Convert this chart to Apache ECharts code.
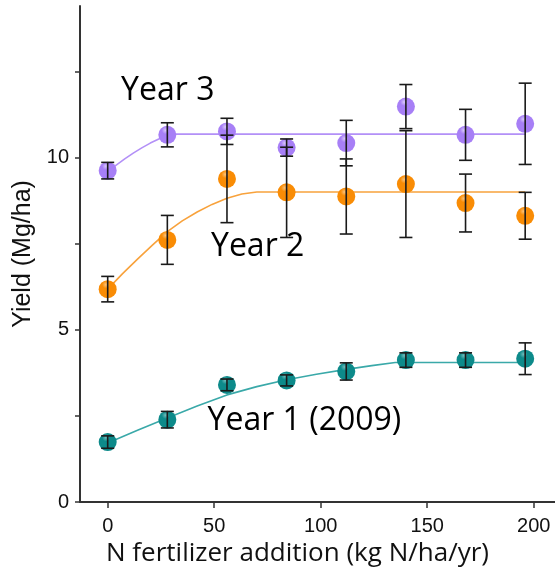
<!DOCTYPE html>
<html>
<head>
<meta charset="utf-8">
<script src="https://cdn.jsdelivr.net/npm/echarts@6/dist/echarts.min.js"></script>
<style>
  html, body { margin: 0; padding: 0; background: #fff; }
  #main { width: 555px; height: 573px; }
</style>
</head>
<body>
<div id="main"></div>
<script>
// N rate (kg N/ha/yr)
const nRate = [0, 28, 56, 84, 112, 140, 168, 196];

// yield means and error (Mg/ha)
const year1Mean = [1.74, 2.39, 3.40, 3.53, 3.79, 4.12, 4.12, 4.16];
const year1Err  = [0.18, 0.24, 0.17, 0.16, 0.25, 0.21, 0.21, 0.46];
const year2Mean = [6.18, 7.61, 9.38, 8.99, 8.87, 9.23, 8.68, 8.31];
const year2Err  = [0.37, 0.71, 1.27, 1.31, 1.09, 1.55, 0.84, 0.68];
const year3Mean = [9.62, 10.66, 10.76, 10.29, 10.42, 11.48, 10.66, 10.98];
const year3Err  = [0.24, 0.35, 0.38, 0.25, 0.66, 0.64, 0.74, 1.18];

// fitted response curves
const fit1X = [0, 14, 28, 42, 56, 70, 84, 98, 112, 124, 135, 196];
const fit1Y = [1.71, 2.08, 2.44, 2.79, 3.11, 3.35, 3.55, 3.71, 3.85, 3.96, 4.05, 4.05];
const fit2X = [0, 7, 14, 21, 28, 35, 42, 49, 56, 63, 70, 196];
const fit2Y = [6.18, 6.63, 7.05, 7.46, 7.85, 8.16, 8.42, 8.64, 8.82, 8.94, 9.0, 9.0];
const fit3X = [0, 4, 8, 12, 16, 20, 24, 28, 32, 196];
const fit3Y = [9.60, 9.78, 9.96, 10.13, 10.28, 10.42, 10.54, 10.63, 10.68, 10.68];

// axis ticks
const xTicks = [0, 50, 100, 150, 200];
const yTicks = [0, 2.5, 5, 7.5, 10, 12.5];
const yLabels = [0, 5, 10];

// series labels [text, x, y] in data units
const yearLabels = [
  ['Year 3', 6.3, 11.94],
  ['Year 2', 48.5, 7.40],
  ['Year 1 (2009)', 46.9, 2.35]
];

const chart = echarts.init(document.getElementById('main'));

function pairs(xs, ys) {
  return xs.map((x, i) => [x, ys[i]]);
}

function gloss(base, light) {
  return {
    type: 'radial', x: 0.4, y: 0.25, r: 0.6,
    colorStops: [
      { offset: 0, color: light },
      { offset: 0.35, color: base },
      { offset: 1, color: base }
    ]
  };
}

function fitLine(xs, ys, color) {
  return {
    type: 'line',
    data: pairs(xs, ys),
    smooth: false,
    showSymbol: false,
    silent: true,
    lineStyle: { color: color, width: 1.6 },
    z: 1
  };
}

function dots(ys, base, light) {
  return {
    type: 'scatter',
    data: pairs(nRate, ys),
    symbolSize: 18,
    itemStyle: { color: gloss(base, light), opacity: 1 },
    z: 2
  };
}

function errBars(ys, errs) {
  return {
    type: 'custom',
    data: nRate.map((x, i) => [x, ys[i] - errs[i], ys[i] + errs[i]]),
    z: 3,
    silent: true,
    renderItem: function (params, api) {
      const lo = api.coord([api.value(0), api.value(1)]);
      const hi = api.coord([api.value(0), api.value(2)]);
      const w = 6.5;
      const style = { stroke: '#1a1a1a', lineWidth: 1.6 };
      return {
        type: 'group',
        children: [
          { type: 'line', shape: { x1: lo[0], y1: lo[1], x2: hi[0], y2: hi[1] }, style: style },
          { type: 'line', shape: { x1: lo[0] - w, y1: lo[1], x2: lo[0] + w, y2: lo[1] }, style: style },
          { type: 'line', shape: { x1: hi[0] - w, y1: hi[1], x2: hi[0] + w, y2: hi[1] }, style: style }
        ]
      };
    },
    encode: { x: 0, y: [1, 2] }
  };
}

chart.setOption({
  animation: false,
  grid: { left: 80, right: 0, top: 6, bottom: 71 },
  xAxis: {
    type: 'value',
    min: -13,
    max: 210,
    name: 'N fertilizer addition (kg N/ha/yr)',
    nameLocation: 'middle',
    nameGap: 38,
    nameTextStyle: { fontFamily: 'Open Sans', fontSize: 26, color: '#111', padding: [0, 40, 0, 0] },
    axisLine: { show: true, onZero: false, lineStyle: { color: '#333', width: 2 } },
    axisTick: { show: true, length: 6, lineStyle: { color: '#333', width: 1.5 }, customValues: xTicks },
    axisLabel: { fontFamily: 'Liberation Sans', fontSize: 20, color: '#111', margin: 14, customValues: xTicks },
    splitLine: { show: false }
  },
  yAxis: {
    type: 'value',
    min: 0,
    max: 14.4,
    name: 'Yield (Mg/ha)',
    nameLocation: 'middle',
    nameGap: 44,
    nameTextStyle: { fontFamily: 'Liberation Sans', fontSize: 25, color: '#111' },
    axisLine: { show: true, onZero: false, lineStyle: { color: '#333', width: 2 } },
    axisTick: { show: true, length: 5, lineStyle: { color: '#333', width: 1.5 }, customValues: yTicks },
    axisLabel: { fontFamily: 'Liberation Sans', fontSize: 20, color: '#111', margin: 11, customValues: yLabels },
    splitLine: { show: false }
  },
  series: [
    fitLine(fit3X, fit3Y, '#b390f7'),
    fitLine(fit2X, fit2Y, '#f8a23c'),
    fitLine(fit1X, fit1Y, '#3aa9a9'),
    dots(year3Mean, '#a77ff6', '#d9c8fc'),
    dots(year2Mean, '#f98c05', '#fcc37a'),
    dots(year1Mean, '#0d8a8a', '#6fbcbc'),
    errBars(year3Mean, year3Err),
    errBars(year2Mean, year2Err),
    errBars(year1Mean, year1Err)
  ]
});

chart.setOption({
  graphic: yearLabels.map(function (d) {
    const p = chart.convertToPixel({ gridIndex: 0 }, [d[1], d[2]]);
    return {
      type: 'text',
      x: p[0],
      y: p[1],
      style: {
        text: d[0],
        fontFamily: 'Open Sans',
        fontSize: 32,
        fill: '#000',
        textAlign: 'left',
        textVerticalAlign: 'middle'
      },
      z: 10
    };
  })
});
</script>
</body>
</html>
